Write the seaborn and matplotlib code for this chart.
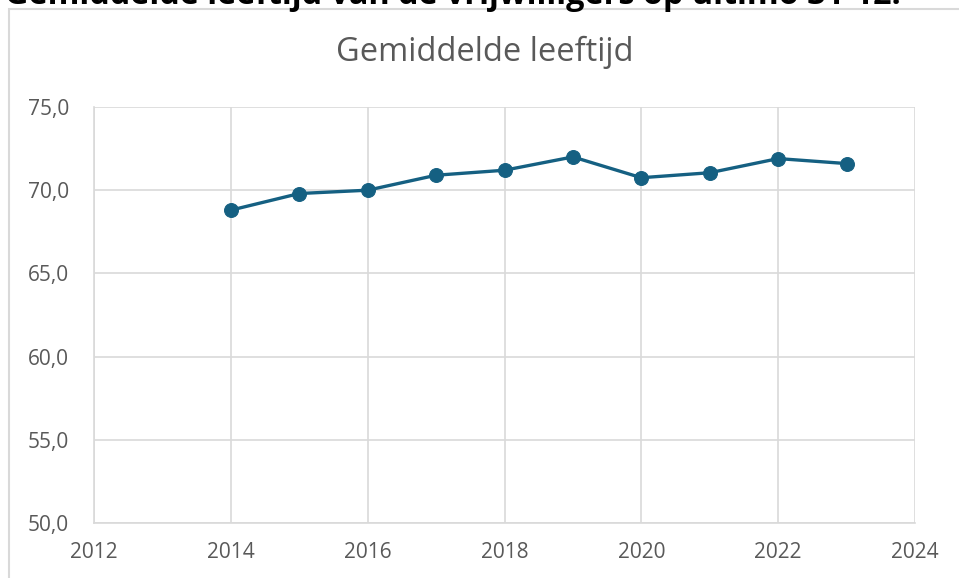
import matplotlib
matplotlib.use("Agg")
import matplotlib.pyplot as plt
import matplotlib.patches as mpatches
import numpy as np
import pandas as pd
import seaborn as sns

# data
years = [2014, 2015, 2016, 2017, 2018, 2019, 2020, 2021, 2022, 2023]
avg_age = [68.8, 69.8, 70.0, 70.9, 71.2, 72.0, 70.75, 71.05, 71.9, 71.6]
x_ticks = [2012, 2014, 2016, 2018, 2020, 2022, 2024]
y_ticks = [50, 55, 60, 65, 70, 75]

page_title = "Gemiddelde leeftijd van de vrijwilligers op ultimo 31-12."
chart_title = "Gemiddelde leeftijd"

sns.set_theme(style="whitegrid")
plt.rcParams["font.family"] = ["Open Sans", "DejaVu Sans"]

df = pd.DataFrame({"jaar": years, "leeftijd": avg_age})

fig = plt.figure(figsize=(9.59, 5.78), dpi=100)
ax = fig.add_axes([94 / 959, 1 - 523 / 578, (915 - 94) / 959, (523 - 107) / 578])

line_col = "#156082"
grid_col = "#d9d9d9"
text_col = "#595959"

sns.lineplot(data=df, x="jaar", y="leeftijd", ax=ax, color=line_col,
             linewidth=2.4, marker="o", markersize=10,
             markeredgecolor=line_col, markerfacecolor=line_col)

ax.set_xlim(2012, 2024)
ax.set_ylim(50, 75)
ax.set_xticks(x_ticks)
ax.set_yticks(y_ticks)
ax.set_yticklabels([f"{v:.1f}".replace(".", ",") for v in y_ticks])
ax.set_xlabel("")
ax.set_ylabel("")
ax.grid(True, color=grid_col, linewidth=1.2)
for side in ["top", "right"]:
    ax.spines[side].set_visible(False)
for side in ["left", "bottom"]:
    ax.spines[side].set_color(grid_col)
    ax.spines[side].set_linewidth(1.2)
ax.tick_params(axis="both", length=0, labelsize=15, colors=text_col)
ax.tick_params(axis="y", pad=18)
ax.tick_params(axis="x", pad=14)

# chart title, centred on the frame
fig.text(485 / 959, 1 - 52 / 578, chart_title, ha="center", va="center",
         fontsize=23.5, color=text_col)

# chart frame (cut off at right and bottom)
frame = mpatches.Rectangle((9 / 959, -0.05), 1.1, 1 - 9 / 578 + 0.05,
                           transform=fig.transFigure, fill=False,
                           edgecolor=grid_col, linewidth=1.5)
fig.patches.append(frame)

# heading above the chart, mostly cut off at the top edge
fig.text(5 / 959, 1 - 3.5 / 578, page_title, ha="left", va="baseline",
         fontsize=23.3, fontweight="bold", color="black")

fig.savefig("out.png", dpi=100)
